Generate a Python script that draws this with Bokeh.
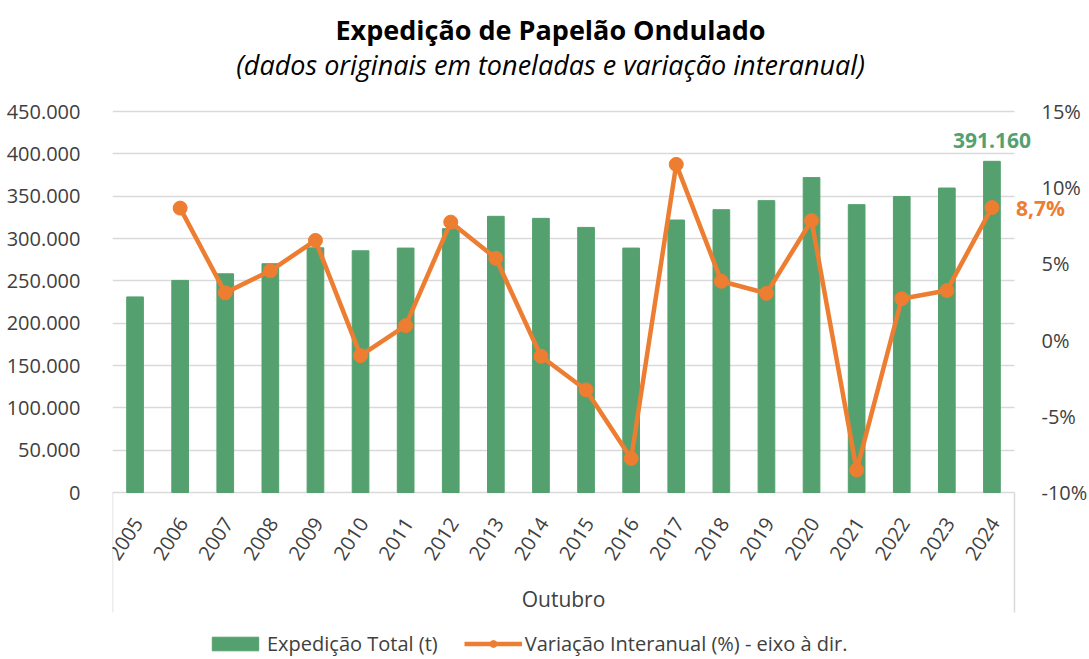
import numpy as np
from bokeh.plotting import figure
from bokeh.models import (Range1d, LinearAxis, FixedTicker, Legend, LegendItem,
                          Label, LabelSet, ColumnDataSource)
from bokeh.core.properties import value
from bokeh.embed import file_html
from bokeh.resources import INLINE

# ---------------- data ----------------
years = [str(y) for y in range(2005, 2025)]
expedicao = [231000, 250500, 258300, 270200, 289000, 285500, 288700, 311600,
             326200, 323800, 313100, 288700, 321800, 334000, 344700, 371900,
             340000, 349500, 359600, 391160]
variacao_years = years[1:]
variacao = [8.66, 3.10, 4.55, 6.54, -1.02, 0.95, 7.74, 5.37, -1.06, -3.27,
            -7.77, 11.53, 3.86, 3.07, 7.85, -8.53, 2.71, 3.25, 8.7]
left_ticks = [0, 50000, 100000, 150000, 200000, 250000, 300000, 350000, 400000, 450000]
left_tick_labels = ["0", "50.000", "100.000", "150.000", "200.000", "250.000",
                    "300.000", "350.000", "400.000", "450.000"]
right_ticks = [-10, -5, 0, 5, 10, 15]
right_tick_labels = ["-10%", "-5%", "0%", "5%", "10%", "15%"]
title_text = "Expedição de Papelão Ondulado"
subtitle_text = "(dados originais em toneladas e variação interanual)"
category_title = "Outubro"
series_names = ["Expedição Total (t)", "Variação Interanual (%) - eixo à dir."]

# ---------------- style / layout ----------------
GREEN = "#55A06F"
ORANGE = "#ED7D31"
GRID = "#D9D9D9"
TXT = "#404040"
FONT = "Open Sans"

W, H = 1089, 659
LEFT_PX, TOP_PX = 112, 111          # plot area origin in the page
CAT_PX, PLOT_PX = 902, 381          # category area size
FRAME_W = 966                       # frame widened for labels at the right
BELOW_PX = H - TOP_PX - PLOT_PX     # room for category labels and legend
BOX_PX = 120                        # depth of the category box lines

n = len(years)
xpos = np.arange(n) + 0.5
xpos_var = xpos[[years.index(y) for y in variacao_years]]

ymax = left_ticks[-1]
per_px = (left_ticks[-1] - left_ticks[0]) / PLOT_PX
pct_per_px = (right_ticks[-1] - right_ticks[0]) / PLOT_PX
x_end = n * FRAME_W / CAT_PX

p = figure(frame_width=FRAME_W, frame_height=H,
           x_range=Range1d(0, x_end),
           y_range=Range1d(left_ticks[0] - BELOW_PX * per_px, ymax + TOP_PX * per_px),
           output_backend="svg", toolbar_location=None, x_axis_location=None,
           min_border_left=LEFT_PX, min_border_right=W - LEFT_PX - FRAME_W,
           min_border_top=0, min_border_bottom=0)
p.outline_line_color = None
p.background_fill_color = "white"

p.extra_y_ranges = {"pct": Range1d(right_ticks[0] - BELOW_PX * pct_per_px,
                                   right_ticks[-1] + TOP_PX * pct_per_px)}

# no vertical grid lines
for g in p.grid:
    if g.dimension == 0:
        g.grid_line_color = None

# horizontal grid lines, limited to the category area
p.ygrid.ticker = FixedTicker(ticks=left_ticks)
p.ygrid.grid_line_color = GRID
p.ygrid.grid_line_width = 1.5
if "cross_bounds" in p.ygrid[0].properties():
    p.ygrid.cross_bounds = (0, n)
else:
    p.ygrid.grid_line_color = None
    p.segment(x0=[0] * len(left_ticks), x1=[n] * len(left_ticks),
              y0=left_ticks, y1=left_ticks, color=GRID, line_width=1.5)

# category box lines (left and right edges below the axis)
box_y = left_ticks[0] - BOX_PX * per_px
p.segment(x0=[0, n], x1=[0, n], y0=[left_ticks[0]] * 2, y1=[box_y] * 2,
          color=GRID, line_width=1.5)

bars = p.vbar(x=xpos, top=expedicao, width=0.37, color=GREEN)
line = p.line(xpos_var, variacao, y_range_name="pct", color=ORANGE, line_width=4.5)
dots = p.scatter(xpos_var, variacao, y_range_name="pct", size=14, color=ORANGE)

# left axis
ya = p.yaxis[0]
ya.ticker = FixedTicker(ticks=left_ticks)
ya.major_label_overrides = {t: l for t, l in zip(left_ticks, left_tick_labels)}
ya.axis_line_color = None
ya.major_tick_line_color = None
ya.minor_tick_line_color = None
ya.major_label_text_font = FONT
ya.major_label_text_font_size = "20px"
ya.major_label_text_color = TXT
ya.major_label_standoff = 26

# right axis (labels pulled back left of the widened frame edge)
ra = LinearAxis(y_range_name="pct", ticker=FixedTicker(ticks=right_ticks))
ra.major_label_overrides = {t: l for t, l in zip(right_ticks, right_tick_labels)}
ra.axis_line_color = None
ra.major_tick_line_color = None
ra.minor_tick_line_color = None
ra.major_label_text_font = FONT
ra.major_label_text_font_size = "20px"
ra.major_label_text_color = TXT
ra.major_label_standoff = -43
p.add_layout(ra, "right")

# category labels (years), rotated
cat_src = ColumnDataSource(dict(x=xpos, y=[left_ticks[0]] * n, text=years))
p.add_layout(LabelSet(x="x", y="y", text="text", source=cat_src,
                      angle=np.deg2rad(57), text_align="right", text_baseline="middle",
                      x_offset=3, y_offset=-27, text_font=value(FONT),
                      text_font_size=value("20px"), text_color=TXT))
p.add_layout(Label(x=n / 2, y=left_ticks[0], text=category_title, y_offset=-106,
                   text_align="center", text_baseline="middle", text_font=FONT,
                   text_font_size="21px", text_color=TXT))

# titles
p.add_layout(Label(x=n / 2, y=ymax + TOP_PX * per_px, text=title_text,
                   x_offset=-13, y_offset=-29, text_align="center",
                   text_baseline="middle", text_font=FONT, text_font_size="27px",
                   text_font_style="bold", text_color="#000000"))
p.add_layout(Label(x=n / 2, y=ymax + TOP_PX * per_px, text=subtitle_text,
                   x_offset=-13, y_offset=-64, text_align="center",
                   text_baseline="middle", text_font=FONT, text_font_size="27px",
                   text_font_style="italic", text_color="#000000"))

# data labels
p.add_layout(Label(x=xpos[-1], y=expedicao[-1],
                   text=f"{expedicao[-1]:,}".replace(",", "."),
                   text_align="center", text_baseline="bottom", y_offset=13,
                   text_font=FONT, text_font_size="21px", text_font_style="bold",
                   text_color=GREEN))
p.add_layout(Label(x=xpos_var[-1], y=variacao[-1], y_range_name="pct",
                   text=f"{variacao[-1]:.1f}".replace(".", ",") + "%",
                   text_align="left", text_baseline="middle", x_offset=24,
                   text_font=FONT, text_font_size="21px", text_font_style="bold",
                   text_color=ORANGE))

# legend, inside the widened frame near its bottom
legend = Legend(items=[LegendItem(label=series_names[0], renderers=[bars]),
                       LegendItem(label=series_names[1], renderers=[line, dots])],
                orientation="horizontal", location=(94, 2),
                glyph_width=58, glyph_height=17, spacing=26, label_standoff=3,
                label_text_font=FONT, label_text_font_size="20px",
                label_text_color=TXT, border_line_color=None,
                background_fill_alpha=0, padding=0, margin=0)
p.add_layout(legend, "center")

open("out.html", "w").write(file_html(p, INLINE))
